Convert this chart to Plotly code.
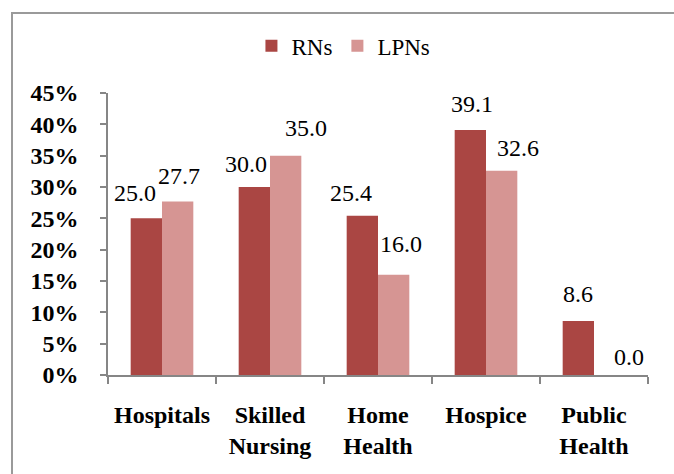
import plotly.graph_objects as go

categories = ["Hospitals", "Skilled<br>Nursing", "Home<br>Health", "Hospice", "Public<br>Health"]
rns = [25.0, 30.0, 25.4, 39.1, 8.6]
lpns = [27.7, 35.0, 16.0, 32.6, 0.0]
y_ticks = [0, 5, 10, 15, 20, 25, 30, 35, 40, 45]
y_tick_labels = [f"{v}%" for v in y_ticks]

# small pixel nudges of the hand-placed data labels (style only)
rn_label_dx = [-11, -8, -11, 2, 0]
rn_label_dy = [16, 14, 14, 17, 18]
lpn_label_dx = [1, 20, 7, 16, 19]
lpn_label_dy = [16, 19, 22, 14, 9]

FONT = "Liberation Serif, Times New Roman, serif"
AXIS_COLOR = "#868686"
RN_COLOR = "#AA4643"
LPN_COLOR = "#D69593"

fig = go.Figure()
fig.add_trace(go.Bar(name="RNs", x=categories, y=rns,
                     marker=dict(color=RN_COLOR, line=dict(width=0))))
fig.add_trace(go.Bar(name="LPNs", x=categories, y=lpns,
                     marker=dict(color=LPN_COLOR, line=dict(width=0))))

PLOT_W = 540
BARGAP = 0.42
half = PLOT_W / len(categories) * (1 - BARGAP) / 4  # offset of each bar centre from category centre
for series, sign, dxs, dys in ((rns, -1, rn_label_dx, rn_label_dy), (lpns, 1, lpn_label_dx, lpn_label_dy)):
    for cat, val, dx, dy in zip(categories, series, dxs, dys):
        fig.add_annotation(x=cat, y=val, xref="x", yref="y", text=f"{val:.1f}",
                           showarrow=False, xanchor="center", yanchor="bottom",
                           xshift=sign * half + dx, yshift=dy - 6,
                           font=dict(family=FONT, size=24, color="#000000"))

fig.update_layout(
    width=674, height=474,
    margin=dict(l=108, r=26, t=93, b=99, autoexpand=False),
    paper_bgcolor="white", plot_bgcolor="white",
    barmode="group", bargap=BARGAP, bargroupgap=0,
    font=dict(family=FONT, size=24, color="#000000"),
    legend=dict(orientation="h", x=0.436, y=1.167, xanchor="center", yanchor="middle",
                font=dict(family=FONT, size=23), itemwidth=30, traceorder="normal"),
)
fig.update_xaxes(
    showline=True, linecolor=AXIS_COLOR, linewidth=1.5, automargin=False,
    ticks="outside", tickson="boundaries", ticklen=7, tickcolor=AXIS_COLOR, tickwidth=1.5,
    tickfont=dict(family=FONT, size=24, color="#000000", weight="bold"),
    showgrid=False, ticklabelstandoff=17,
)
fig.update_yaxes(
    range=[0, 45], tickmode="array", tickvals=y_ticks, ticktext=y_tick_labels,
    showline=True, linecolor=AXIS_COLOR, linewidth=1.5, automargin=False,
    ticks="outside", ticklen=6, tickcolor=AXIS_COLOR, tickwidth=1.5,
    tickfont=dict(family=FONT, size=24, color="#000000", weight="bold"),
    showgrid=False, zeroline=False, ticklabelstandoff=17,
)
# outer chart border
fig.add_shape(type="rect", xref="paper", yref="paper",
              x0=(12 - 108) / 540, x1=1.3, y0=-0.6, y1=(375 - 13) / 282,
              line=dict(color="#9a9a9a", width=2), layer="below")

fig.write_html("out.html", config={"displayModeBar": False},
               post_script="document.body.style.margin='0px';")
